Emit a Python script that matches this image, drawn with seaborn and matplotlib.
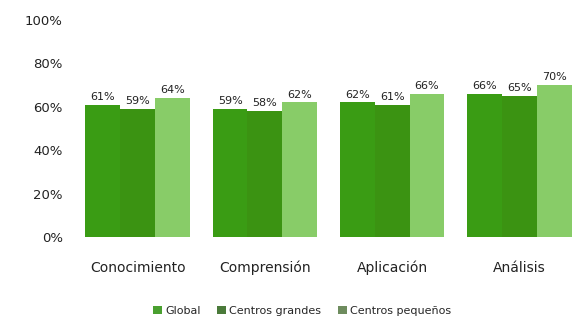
import matplotlib
matplotlib.use("Agg")
import matplotlib.pyplot as plt
import seaborn as sns
import pandas as pd
from matplotlib.patches import Patch

categories = ["Conocimiento", "Comprensión", "Aplicación", "Análisis"]
series = ["Global", "Centros grandes", "Centros pequeños"]
global_vals = [61, 59, 62, 66]
grandes_vals = [59, 58, 61, 65]
pequenos_vals = [64, 62, 66, 70]
y_ticks = [0, 20, 40, 60, 80, 100]
y_tick_labels = ["0%", "20%", "40%", "60%", "80%", "100%"]

bar_colors = ["#3a9c14", "#3b9312", "#88cc68"]
legend_colors = ["#4aa030", "#4a7a3a", "#6e8c5e"]

rows = []
for s, vals in zip(series, [global_vals, grandes_vals, pequenos_vals]):
    for c, v in zip(categories, vals):
        rows.append({"cat": c, "serie": s, "val": v})
df = pd.DataFrame(rows)

sns.set_style("white")
plt.rcParams["font.family"] = ["DejaVu Sans"]

fig = plt.figure(figsize=(5.83, 3.20), dpi=100)
ax = fig.add_axes([74 / 583, (320 - 237) / 320, 509 / 583, (237 - 20) / 320])

sns.barplot(data=df, x="cat", y="val", hue="serie", order=categories,
            hue_order=series, palette=bar_colors, width=0.82, saturation=1,
            ax=ax, legend=False, linewidth=0)

for cont in ax.containers:
    ax.bar_label(cont, labels=[f"{int(v)}%" for v in cont.datavalues],
                 padding=2, fontsize=8, color="#222222")

ax.set_ylim(0, 100)
ax.set_xlim(-0.5, 3.5)
ax.set_yticks(y_ticks)
ax.set_yticklabels(y_tick_labels, fontsize=9.5, color="#222222")
ax.tick_params(axis="y", length=0, pad=8)
ax.tick_params(axis="x", length=0, pad=17, labelsize=10, labelcolor="#222222")
ax.set_xlabel("")
ax.set_ylabel("")
for sp in ax.spines.values():
    sp.set_visible(False)

handles = [Patch(facecolor=c, edgecolor="none") for c in legend_colors]
fig.legend(handles, series, loc="center", bbox_to_anchor=(302 / 583, 1 - 311 / 320),
           ncol=3, frameon=False, fontsize=8, handlelength=0.8, handleheight=0.8,
           handletextpad=0.3, columnspacing=1.5)

fig.savefig("out.png", dpi=100)
